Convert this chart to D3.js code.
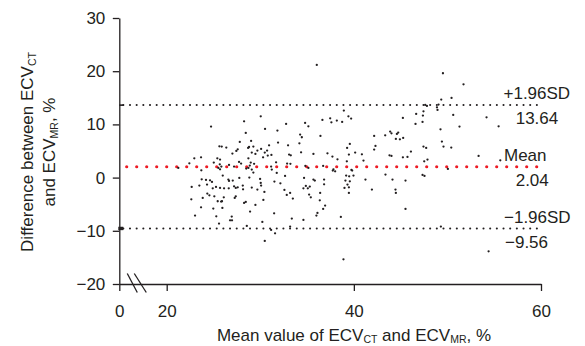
<!DOCTYPE html>
<html><head><meta charset="utf-8">
<script src="https://cdn.jsdelivr.net/npm/d3@7"></script>
<style>body{margin:0;background:#fff}svg{display:block;font-family:"Liberation Sans",Arial,Helvetica,sans-serif}</style>
</head><body><svg id="c" width="585" height="346"></svg>
<script>
const xTicks = [0, 20, 40, 60];
const yTicks = [-20, -10, 0, 10, 20, 30];
const refValues = [13.64, 2.04, -9.56];
const refNames = ["+1.96SD", "Mean", "\u22121.96SD"];
// [mean value of ECV_CT and ECV_MR (%), difference (%)]
const points = [
[21.24,1.82],[24.74,9.59],[30.05,11.52],[28.27,10.58],[30.51,9.15],[32.76,10.09],[28.45,8.40],[31.83,8.83],[27.81,6.71],[29.02,6.90],[31.90,6.58],[25.63,5.88],[25.88,5.83],[26.37,5.64],[28.70,5.58],[28.80,5.75],[29.26,5.83],[27.59,5.32],[27.44,5.02],[29.69,5.08],[30.09,5.39],[30.94,6.07],[30.73,5.08],[30.48,4.70],[32.97,6.07],[29.09,4.70],[29.48,4.45],[27.02,4.51],[31.19,4.27],[30.80,4.14],[22.95,3.63],[23.67,3.82],[25.41,3.63],[25.70,3.38],[28.73,3.63],[30.30,3.82],[22.42,2.69],[25.03,2.82],[25.67,2.50],[25.84,2.07],[25.52,1.82],[27.73,2.95],[27.95,2.63],[28.98,2.82],[29.34,2.58],[28.88,2.26],[28.73,1.82],[31.69,2.88],[32.87,2.63],[26.66,2.39],[33.08,4.32],[27.2,2.07],[28.5,1.7],
[23.70,1.37],[25.70,1.56],[29.09,1.50],[29.26,0.94],[31.16,2.07],[31.23,1.50],[31.76,0.88],[32.65,0.32],[25.99,0.38],[26.59,-0.38],[27.06,-0.56],[26.66,-0.62],[27.76,-0.06],[28.83,0.00],[29.98,-0.24],[30.05,-1.00],[30.09,-1.50],[31.51,-0.75],[32.15,-1.07],[23.74,-0.32],[24.20,-0.43],[24.63,-0.51],[24.84,-0.81],[24.31,-1.32],[22.67,-1.75],[23.49,-1.50],[25.27,-1.75],[25.70,-1.94],[26.13,-2.01],[24.92,-2.01],[26.63,-2.01],[27.20,-1.64],[27.38,-1.94],[27.59,-1.82],[28.13,-1.50],[28.16,-2.20],[29.09,-1.88],[29.69,-2.26],[30.44,-2.69],[32.58,-2.31],[32.83,-3.25],[24.34,-3.01],[24.56,-3.33],[25.09,-3.52],[26.10,-3.70],[25.91,-4.45],[27.38,-3.52],[27.27,-3.82],[23.85,-3.82],[22.63,-4.08],[25.45,-4.45],[25.81,-4.51],[28.27,-4.76],[28.45,-4.57],[30.33,-4.19],[29.48,-5.13],[23.67,-5.58],[24.98,-5.83],[25.95,-5.70],[28.91,-6.39],[31.48,-6.71],[23.03,-7.14],[25.30,-7.27],[26.95,-7.33],[26.77,-8.03],[26.98,-8.03],[25.59,-8.65],[30.22,-8.33],[28.56,-9.08],[31.16,-9.83],[31.58,-10.47],[30.48,-11.90],
[36.04,21.18],[38.93,12.59],[39.42,11.52],[39.71,11.09],[36.64,10.85],[37.47,11.15],[37.60,10.39],[38.18,10.71],[38.75,10.47],[34.79,10.28],[35.14,9.64],[45.24,11.22],[34.26,8.08],[34.44,7.58],[36.43,7.84],[34.18,6.45],[34.36,4.76],[35.68,4.45],[42.17,7.84],[42.31,5.96],[42.17,5.26],[43.35,7.95],[43.88,8.65],[44.02,8.33],[44.60,8.21],[44.74,8.46],[44.92,7.20],[44.49,7.27],[45.27,7.46],[39.57,6.33],[39.28,5.58],[39.47,4.32],[39.25,3.06],[40.14,4.70],[40.86,4.38],[41.03,3.20],[37.18,4.57],[37.71,3.95],[38.25,3.44],[43.81,4.19],[44.02,4.08],[45.24,3.82],[45.73,3.89],[33.26,4.19],[33.22,2.58],[34.82,2.20],[35.14,1.82],[36.72,2.20],[37.82,1.56],[39.74,1.45],
[37.75,1.32],[38.00,1.18],[39.82,1.32],[39.50,0.24],[39.96,0.38],[39.18,0.38],[39.10,-0.56],[34.68,-0.06],[35.68,-0.38],[35.83,-0.56],[36.82,-0.38],[36.82,-1.26],[41.24,-0.38],[43.38,0.56],[44.13,-0.38],[45.52,-0.56],[39.57,-0.70],[39.32,-1.32],[39.47,-1.82],[39.00,-1.94],[39.47,-2.88],[34.61,-2.01],[34.87,-1.56],[35.08,-2.01],[35.29,-1.69],[35.22,-3.20],[35.40,-3.70],[36.40,-2.88],[33.19,-2.88],[33.48,-3.95],[36.36,-4.27],[41.93,-2.26],[44.45,-2.26],[44.49,-2.88],[36.93,-5.26],[36.72,-5.88],[36.11,-6.64],[36.00,-7.14],[45.52,-5.88],[38.61,-7.39],[33.37,-7.71],[34.61,-7.95],[33.19,-9.21],[38.89,-15.36],
[49.52,19.61],[51.72,17.54],[49.34,14.66],[50.44,14.98],[47.63,13.67],[47.81,13.48],[49.05,13.72],[48.88,13.21],[46.66,11.97],[47.44,12.46],[47.38,11.65],[46.59,10.09],[47.34,10.47],[48.94,12.73],[50.62,11.79],[54.18,11.33],[51.29,9.59],[55.47,9.64],[49.26,9.08],[49.41,6.77],[49.58,5.83],[50.41,5.64],[47.44,5.83],[47.73,5.58],[46.10,4.89],[47.87,3.38],[47.52,3.06],[53.33,4.08],[55.65,3.25],[50.05,1.64],[47.34,0.51],[47.55,0.32],[49.30,-9.21],[54.40,-13.85]
];

const ink = "#231f20";
const FS = 17;
const svg = d3.select("#c");
const x = d3.scaleLinear().domain([0, 20, 60]).range([119.3, 166.7, 541]);
const y = d3.scaleLinear().domain([-20, 30]).range([284, 18]);

// reference lines
const refG = svg.append("g");
refValues.forEach((v, i) => {
  const isMean = i === 1;
  refG.append("line")
    .attr("x1", x(0)).attr("x2", x(59.7))
    .attr("y1", y(v)).attr("y2", y(v))
    .attr("stroke", isMean ? "#ee1c25" : ink)
    .attr("stroke-width", isMean ? 3.2 : 2.1)
    .attr("stroke-linecap", "round")
    .attr("stroke-dasharray", isMean ? "0 10" : "0 6.67")
    .attr("stroke-dashoffset", isMean ? 2.6 : 2.64);
});
// small marks at axis start of the limit lines
refG.append("rect").attr("x", x(0)).attr("y", y(refValues[0]) - 0.7).attr("width", 4.5).attr("height", 1.6).attr("fill", ink);
refG.append("rect").attr("x", x(0) - 1).attr("y", y(refValues[2]) - 1.7).attr("width", 5).attr("height", 3.4).attr("fill", ink);

// points
svg.append("g").selectAll("circle").data(points).join("circle")
  .attr("cx", d => x(d[0])).attr("cy", d => y(d[1]))
  .attr("r", 1.15).attr("fill", ink);

// axes
const yAxis = svg.append("g").attr("transform", `translate(${x(0)},0)`)
  .call(d3.axisLeft(y).tickValues(yTicks).tickSize(6.5).tickSizeOuter(0).tickPadding(7.5));
const xAxis = svg.append("g").attr("transform", `translate(0,${y(-20)})`)
  .call(d3.axisBottom(x).tickValues(xTicks).tickSize(7).tickSizeOuter(0).tickPadding(13.5));
[yAxis, xAxis].forEach(g => {
  g.selectAll("path,line").attr("stroke", ink).attr("stroke-width", 1.3);
  g.selectAll("text").attr("fill", ink).attr("font-size", FS).attr("font-family", null);
});

// axis break marks
const bx = x(4), by = y(-20);
[0, 7].forEach(o => {
  svg.append("line")
    .attr("x1", bx - 1.5 + o).attr("y1", by - 10.5)
    .attr("x2", bx + 8.5 + o + (o ? 2 : 0)).attr("y2", by + 8.5)
    .attr("stroke", ink).attr("stroke-width", 1.3);
});

// reference labels
const lab = svg.append("g").attr("fill", ink).attr("font-size", FS);
const nameX = [503.5, 504, 504];
const valX = [515.7, 515.7, 505];
refValues.forEach((v, i) => {
  lab.append("text").attr("x", nameX[i]).attr("y", y(v) - 5.7).text(refNames[i]);
  lab.append("text").attr("x", valX[i]).attr("y", y(v) + 19.3).text(d3.format(".2f")(v));
});

// axis titles
function sub(t, s, d) {
  t.append("tspan").text(s).attr("font-size", 10.5).attr("dy", d);
}
const xt = svg.append("text").attr("x", 354).attr("y", 340.5).attr("text-anchor", "middle")
  .attr("fill", ink).attr("font-size", FS);
xt.append("tspan").text("Mean value of ECV");
sub(xt, "CT", 2.2);
xt.append("tspan").text(" and ECV").attr("dy", -2.2);
sub(xt, "MR", 2.2);
xt.append("tspan").text(", %").attr("dy", -2.2);

const yt1 = svg.append("text").attr("transform", "translate(32.5,152) rotate(-90)")
  .attr("text-anchor", "middle").attr("fill", ink).attr("font-size", FS);
yt1.append("tspan").text("Difference between ECV");
sub(yt1, "CT", 3);
const yt2 = svg.append("text").attr("transform", "translate(54.5,152) rotate(-90)")
  .attr("text-anchor", "middle").attr("fill", ink).attr("font-size", FS);
yt2.append("tspan").text("and ECV");
sub(yt2, "MR", 3);
yt2.append("tspan").text(", %").attr("dy", -3);
</script></body></html>
